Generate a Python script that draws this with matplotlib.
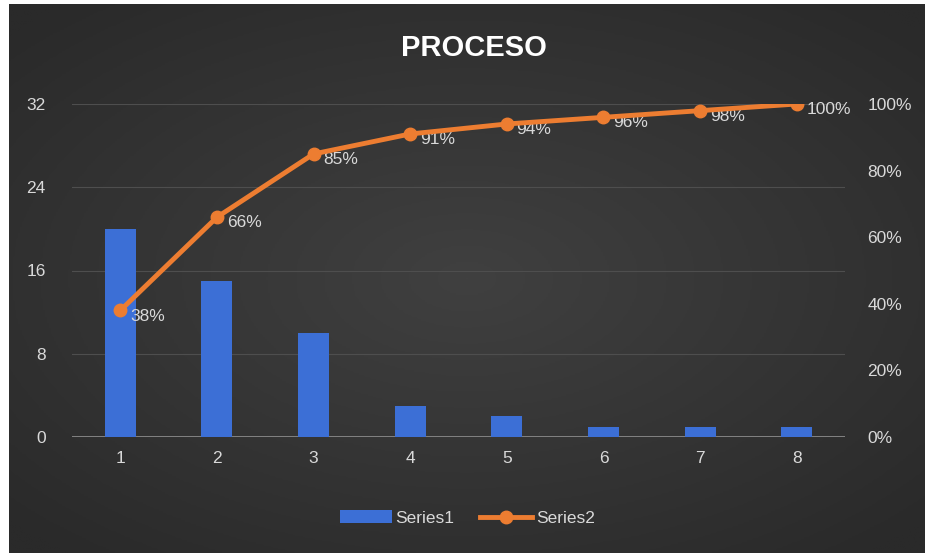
import numpy as np
import matplotlib.pyplot as plt
from matplotlib.colors import LinearSegmentedColormap

categories = [1, 2, 3, 4, 5, 6, 7, 8]
series1 = [20, 15, 10, 3, 2, 1, 1, 1]
series2 = [0.38, 0.66, 0.85, 0.91, 0.94, 0.96, 0.98, 1.00]
left_ticks = [0, 8, 16, 24, 32]
right_ticks = [0, 0.2, 0.4, 0.6, 0.8, 1.0]

txt = '#d9d9d9'
plt.rcParams.update({'font.family': ['Liberation Sans', 'DejaVu Sans']})

fig = plt.figure(figsize=(9.25, 5.53), dpi=100)
fig.patch.set_facecolor('white')

# fondo oscuro con degradado radial
bg = fig.add_axes([9 / 925, 0, 1 - 9 / 925, 1 - 4 / 553])
bg.set_axis_off()
yy, xx = np.mgrid[-1:1:300j, -1:1:500j]
r = np.sqrt(xx ** 2 * 0.9 + yy ** 2)
cmap = LinearSegmentedColormap.from_list('bg', ['#404040', '#2a2a2a'])
bg.imshow(r, cmap=cmap, aspect='auto', extent=[0, 1, 0, 1], vmin=0, vmax=1.3)
bg.set_zorder(0)

ax = fig.add_axes([72 / 925, 1 - 437 / 553, (845 - 72) / 925, (437 - 104) / 553])
ax.set_zorder(1)
ax.patch.set_alpha(0)
x = np.array(categories)
ax.bar(x, series1, width=0.32, color='#3c6fd6', label='Series1', zorder=3)
ax.set_xlim(0.5, 8.5)
ax.set_ylim(0, 32)
ax.set_yticks(left_ticks)
ax.set_xticks(x)
ax.set_xticklabels([str(c) for c in categories])
ax.grid(axis='y', color='#4e4e4e', linewidth=0.8)
ax.set_axisbelow(True)
for s in ax.spines.values():
    s.set_visible(False)
ax.axhline(0, color='#8a8a8a', linewidth=2, zorder=2)
ax.tick_params(length=0, colors=txt, labelsize=12.5)
ax.tick_params(axis='x', pad=10)
ax.tick_params(axis='y', pad=19)

ax2 = ax.twinx()
ax2.plot(x, series2, color='#ed7d31', linewidth=3.5, marker='o', markersize=9,
         label='Series2', zorder=4)
for xi, v in zip(x, series2):
    ax2.annotate(f'{v:.0%}', (xi, v), xytext=(7, -4), textcoords='offset points',
                 va='center', ha='left', color=txt, fontsize=12.5)
ax2.set_ylim(0, 1)
ax2.set_yticks(right_ticks)
ax2.set_yticklabels([f'{t:.0%}' for t in right_ticks])
for s in ax2.spines.values():
    s.set_visible(False)
ax2.tick_params(length=0, colors=txt, labelsize=12.5, pad=16)

fig.text(0.512, 1 - 48 / 553, 'PROCESO', ha='center', va='center',
         color='white', fontsize=21, fontweight='bold')

h1, l1 = ax.get_legend_handles_labels()
h2, l2 = ax2.get_legend_handles_labels()
fig.legend(h1 + h2, l1 + l2, loc='center', bbox_to_anchor=(0.505, 1 - 518 / 553),
           ncol=2, frameon=False, labelcolor=txt, fontsize=12.5,
           handlelength=3, handletextpad=0.2, columnspacing=1.5)

fig.savefig('out.png', dpi=100)
